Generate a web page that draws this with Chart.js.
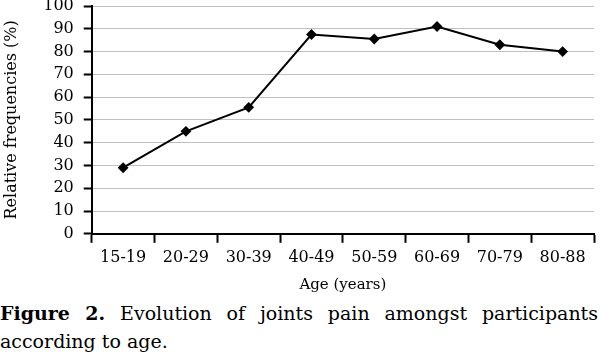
<!DOCTYPE html>
<html>
<head>
<meta charset="utf-8">
<script src="https://cdn.jsdelivr.net/npm/chart.js@4.4.0/dist/chart.umd.min.js"></script>
<style>
  html, body { margin: 0; padding: 0; background: #fff; }
  #wrap { width: 600px; height: 294px; position: relative; }
  #caption {
    width: 598px;
    font-family: "DejaVu Serif", serif;
    font-size: 19px;
    line-height: 28px;
    color: #000;
    text-align: justify;
    text-align-last: left;
    margin-top: 5px;
  }
  #caption b { font-weight: bold; }
</style>
</head>
<body>
<div id="wrap"><canvas id="chart"></canvas></div>
<div id="caption"><b>Figure 2.</b> Evolution of joints pain amongst participants according to age.</div>
<script>
// grupos de edad y frecuencias relativas (%)
const ageGroups = ['15-19', '20-29', '30-39', '40-49', '50-59', '60-69', '70-79', '80-88'];
const frequencies = [29, 45, 55.5, 87.5, 85.5, 91, 83, 80];
const yTicks = [0, 10, 20, 30, 40, 50, 60, 70, 80, 90, 100];

const serif = 'DejaVu Serif';

new Chart(document.getElementById('chart').getContext('2d'), {
  type: 'line',
  data: {
    labels: ageGroups,
    datasets: [{
      data: frequencies,
      borderColor: '#000',
      backgroundColor: '#000',
      borderWidth: 2,
      tension: 0,
      pointStyle: 'rectRot',
      pointRadius: 4,
      pointHoverRadius: 4
    }]
  },
  options: {
    responsive: true,
    maintainAspectRatio: false,
    animation: false,
    layout: { padding: { left: 0, right: 2, top: 0, bottom: 0 } },
    plugins: {
      legend: { display: false },
      tooltip: { enabled: false }
    },
    scales: {
      x: {
        offset: true,
        grid: {
          offset: true,
          drawOnChartArea: false,
          drawTicks: true,
          tickLength: 9,
          tickColor: '#000',
          tickWidth: 2
        },
        border: { color: '#000', width: 2 },
        ticks: {
          color: '#000',
          padding: 5,
          maxRotation: 0,
          autoSkip: false,
          font: { family: serif, size: 16 }
        },
        title: {
          display: true,
          text: 'Age (years)',
          color: '#000',
          padding: { top: 4, bottom: 0 },
          font: { family: serif, size: 15 }
        }
      },
      y: {
        min: 0,
        max: 100,
        afterBuildTicks: (scale) => { scale.ticks = yTicks.map(v => ({ value: v })); },
        // dejar que el "100" llegue casi al borde superior
        afterFit: (scale) => { scale.paddingTop = 6; },
        grid: {
          color: (ctx) => ctx.tick && ctx.tick.value === 0 ? 'rgba(0,0,0,0)' : '#c0c0c0',
          tickColor: '#000',
          tickLength: 8,
          tickWidth: 2,
          tickBorderDash: [],
          borderDash: [1, 1]
        },
        border: { color: '#000', width: 2 },
        ticks: {
          color: '#000',
          padding: 10,
          font: { family: serif, size: 16, lineHeight: 1 }
        },
        title: {
          display: true,
          text: 'Relative frequencies (%)',
          color: '#000',
          padding: { top: 2, bottom: 12 },
          font: { family: serif, size: 16 }
        }
      }
    }
  }
});
</script>
</body>
</html>
